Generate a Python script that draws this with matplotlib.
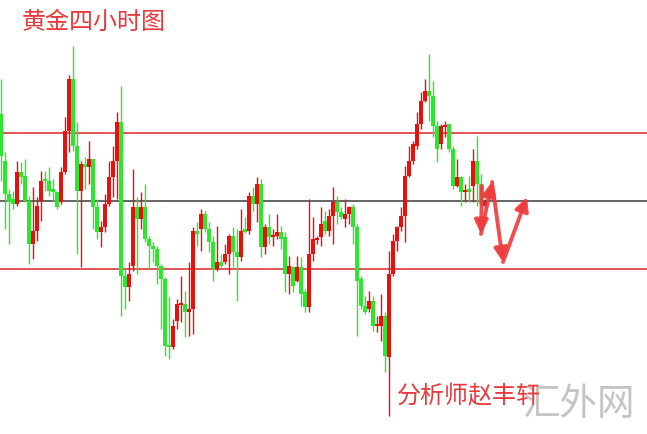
import numpy as np
import matplotlib
matplotlib.use("Agg")
import matplotlib.pyplot as plt

plt.rcParams['font.family'] = ['Noto Sans CJK SC', 'DejaVu Sans']

# 4小时K线 (开, 高, 低, 收)
opens = [320, 273, 240, 235, 230, 262, 258, 233, 190, 203, 233, 255, 253, 245, 242, 232, 262, 303, 355, 288,
         243, 270, 267, 275, 227, 202, 207, 230, 257, 273, 312, 158, 147, 168, 227, 215, 227, 195, 188, 185,
         168, 155, 88, 87, 113, 129, 130, 122, 125, 203, 205, 220, 205, 192, 165, 172, 172, 180, 198, 182,
         177, 205, 203, 238, 230, 250, 187, 207, 197, 198, 202, 197, 160, 167, 153, 167, 142, 127, 180, 194,
         197, 213, 203, 218, 232, 222, 215, 220, 227, 207, 155, 128, 125, 133, 108, 108, 118, 77, 160, 193,
         207, 218, 258, 273, 288, 310, 333, 343, 338, 308, 290, 307, 310, 285, 248, 257, 242, 245, 248, 273,
         250, 228]
highs = [355, 282, 245, 243, 273, 272, 275, 238, 247, 237, 263, 263, 267, 255, 243, 267, 317, 359, 388, 312,
         273, 277, 293, 275, 235, 213, 240, 273, 288, 322, 348, 165, 172, 265, 237, 242, 250, 198, 192, 188,
         170, 157, 137, 115, 135, 158, 143, 172, 207, 212, 225, 223, 212, 198, 208, 180, 190, 200, 207, 205,
         225, 217, 242, 247, 257, 255, 210, 220, 205, 220, 208, 202, 178, 168, 178, 177, 145, 235, 217, 198,
         227, 223, 225, 247, 238, 227, 235, 228, 230, 210, 158, 138, 143, 138, 118, 140, 122, 183, 200, 208,
         227, 268, 288, 293, 322, 342, 355, 380, 353, 313, 310, 313, 310, 288, 275, 258, 250, 258, 285, 298,
         260, 235]
lows = [253, 205, 190, 225, 228, 250, 232, 170, 175, 193, 213, 243, 238, 233, 225, 230, 260, 282, 283, 180,
        167, 245, 250, 205, 195, 187, 202, 228, 237, 235, 118, 125, 133, 163, 160, 205, 192, 165, 172, 150,
        105, 78, 75, 85, 105, 112, 97, 98, 100, 188, 183, 202, 182, 153, 163, 167, 170, 160, 167, 133,
        173, 201, 200, 223, 212, 177, 180, 190, 188, 195, 185, 142, 140, 142, 152, 128, 122, 122, 173, 190,
        188, 200, 198, 190, 210, 215, 207, 210, 190, 98, 125, 120, 122, 103, 102, 93, 62, 18, 158, 183,
        203, 192, 257, 270, 285, 305, 332, 313, 297, 272, 285, 297, 282, 245, 247, 228, 232, 232, 232, 228,
        228, 227]
closes = [278, 240, 232, 230, 262, 257, 233, 190, 203, 228, 253, 253, 243, 242, 227, 262, 303, 355, 288, 243,
          270, 267, 275, 227, 202, 207, 230, 257, 273, 312, 158, 147, 160, 227, 215, 227, 195, 188, 185, 168,
          155, 88, 87, 108, 130, 131, 122, 125, 203, 200, 220, 205, 192, 165, 172, 168, 180, 198, 182, 177,
          203, 202, 238, 230, 250, 187, 207, 197, 199, 202, 195, 160, 168, 148, 167, 140, 127, 180, 195, 196,
          210, 203, 218, 232, 222, 217, 220, 227, 207, 153, 128, 122, 133, 108, 110, 118, 78, 160, 193, 207,
          218, 258, 273, 290, 310, 333, 343, 338, 308, 285, 308, 308, 285, 248, 257, 242, 244, 242, 273, 250,
          230, 232]

levels = [301, 233, 165]
level_colors = ['#d9262a', '#3a3a3a', '#d9262a']

# 走势预测箭头
path_x = [120.25, 120.0, 122.75, 125.5, 131.5]
path_y = [248, 200, 252, 172, 237]

fig = plt.figure(figsize=(6.47, 4.35), dpi=100)
ax = fig.add_axes([0, 0, 1, 1])
ax.set_xlim(-0.25, -0.25 + 647 / 4)
ax.set_ylim(0, 435)
ax.axis('off')

for lv, c in zip(levels, level_colors):
    ax.axhline(lv, color=c, lw=1.1, zorder=1)

o = np.array(opens, dtype=float)
h = np.array(highs, dtype=float)
l = np.array(lows, dtype=float)
c = np.array(closes, dtype=float)
x = np.arange(len(o))
up = c >= o
cols = np.where(up, '#e3120f', '#2fe62f')

ax.vlines(x, l, h, colors=cols, lw=1.0, zorder=2)
body = np.maximum(np.abs(c - o), 1.8)
ax.bar(x, body, bottom=np.minimum(o, c), width=0.8, color=cols, lw=0, zorder=3)

for i in range(len(path_x) - 1):
    ax.annotate('', xy=(path_x[i + 1], path_y[i + 1]), xytext=(path_x[i], path_y[i]),
                arrowprops=dict(arrowstyle='-|>,head_length=0.8,head_width=0.4',
                                color='#ee3b3b', lw=2.8, shrinkA=0, shrinkB=0, alpha=0.9),
                zorder=5)

fig.text(22 / 647, 1 - 22 / 435, '黄金四小时图', color='#e8393c', fontsize=17.3,
         va='center', ha='left')
fig.text(522 / 647, 1 - 405 / 435, '汇外网', color='#c4c4c4', fontsize=27,
         va='center', ha='left', zorder=1)
fig.text(397 / 647, 1 - 396 / 435, '分析师赵丰轩', color='#e8393c', fontsize=17.3,
         va='center', ha='left', zorder=6)

fig.savefig('out.png', dpi=100)
